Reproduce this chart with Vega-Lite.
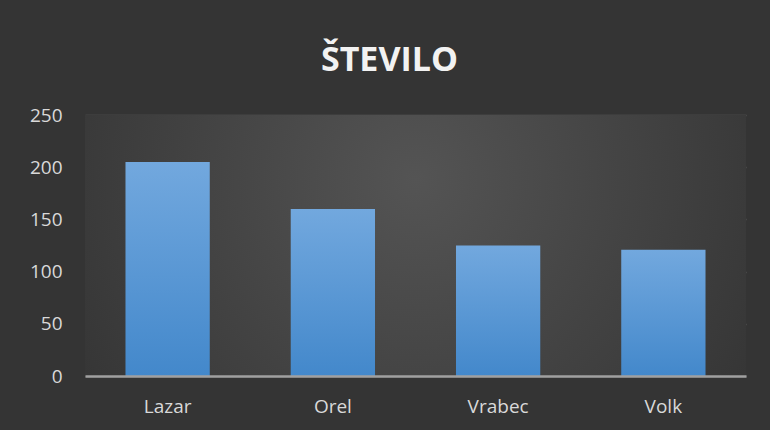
{
  "$schema": "https://vega.github.io/schema/vega-lite/v6.json",
  "autosize": "none",
  "width": 661,
  "height": 261,
  "padding": {"left": 85, "top": 115, "right": 24, "bottom": 54},
  "background": "#343434",
  "title": {
    "text": "ŠTEVILO",
    "font": "Open Sans",
    "fontSize": 34,
    "fontWeight": "bold",
    "color": "#f2f2f2",
    "anchor": "middle",
    "baseline": "alphabetic",
    "offset": 1,
    "dx": -26
  },
  "config": {
    "view": {"stroke": null},
    "axis": {"labelFont": "Open Sans", "labelFontSize": 19, "labelColor": "#d9d9d9"}
  },
  "layer": [
    {
      "data": {"values": [{}]},
      "mark": {
        "type": "rect",
        "fill": {
          "gradient": "radial",
          "x1": 0.5, "y1": 0.4, "r1": 0,
          "x2": 0.5, "y2": 0.4, "r2": 0.6,
          "stops": [
            {"offset": 0, "color": "#545454"},
            {"offset": 1, "color": "#353535"}
          ]
        }
      },
      "encoding": {}
    },
    {
      "data": {
        "values": [
          {"ime": "Lazar", "stevilo": 205},
          {"ime": "Orel", "stevilo": 160},
          {"ime": "Vrabec", "stevilo": 125},
          {"ime": "Volk", "stevilo": 121}
        ]
      },
      "mark": {
        "type": "bar",
        "fill": {
          "gradient": "linear",
          "x1": 0, "y1": 0, "x2": 0, "y2": 1,
          "stops": [
            {"offset": 0, "color": "#72a8de"},
            {"offset": 1, "color": "#4388cb"}
          ]
        }
      },
      "encoding": {
        "x": {
          "field": "ime",
          "type": "nominal",
          "sort": null,
          "title": null,
          "scale": {"paddingInner": 0.49, "paddingOuter": 0.245},
          "axis": {
            "labelAngle": 0,
            "ticks": false,
            "labelPadding": 21,
            "domainColor": "#a0a0a0",
            "domainWidth": 2.5,
            "zindex": 1
          }
        },
        "y": {
          "field": "stevilo",
          "type": "quantitative",
          "title": null,
          "scale": {"domain": [0, 250], "nice": false},
          "axis": {
            "values": [0, 50, 100, 150, 200, 250],
            "ticks": false,
            "domain": false,
            "labelPadding": 23,
            "gridColor": "#5a5a5a",
            "gridWidth": 1.5
          }
        }
      }
    }
  ]
}
